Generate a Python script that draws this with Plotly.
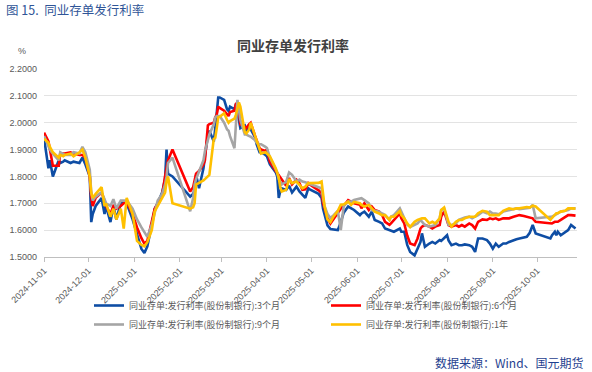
import plotly.graph_objects as go

dates = [
    "2024-11-01", "2024-11-04", "2024-11-05", "2024-11-07", "2024-11-11", "2024-11-12",
    "2024-11-14", "2024-11-15", "2024-11-19", "2024-11-21", "2024-11-25", "2024-11-27",
    "2024-11-29", "2024-12-02", "2024-12-03", "2024-12-04", "2024-12-06", "2024-12-10",
    "2024-12-12", "2024-12-13", "2024-12-16", "2024-12-18", "2024-12-20", "2024-12-23",
    "2024-12-25", "2024-12-27", "2024-12-31", "2025-01-03", "2025-01-06", "2025-01-08",
    "2025-01-10", "2025-01-13", "2025-01-15", "2025-01-17", "2025-01-20", "2025-01-22",
    "2025-01-23", "2025-01-24", "2025-01-27",
    "2025-02-08", "2025-02-10", "2025-02-11", "2025-02-12", "2025-02-14", "2025-02-17",
    "2025-02-18", "2025-02-20", "2025-02-21", "2025-02-24", "2025-02-25", "2025-02-26",
    "2025-02-27", "2025-02-28", "2025-03-03", "2025-03-05", "2025-03-06", "2025-03-07",
    "2025-03-10", "2025-03-11", "2025-03-12", "2025-03-13", "2025-03-14", "2025-03-17",
    "2025-03-18", "2025-03-20", "2025-03-21", "2025-03-24", "2025-03-25", "2025-03-27",
    "2025-03-28", "2025-03-31", "2025-04-01", "2025-04-03", "2025-04-07", "2025-04-08",
    "2025-04-09", "2025-04-10", "2025-04-11", "2025-04-14", "2025-04-16", "2025-04-18",
    "2025-04-21", "2025-04-23", "2025-04-25", "2025-04-27", "2025-04-29", "2025-04-30",
    "2025-05-06", "2025-05-08", "2025-05-09", "2025-05-10", "2025-05-12", "2025-05-14",
    "2025-05-16", "2025-05-19", "2025-05-21", "2025-05-23", "2025-05-26", "2025-05-28",
    "2025-05-30", "2025-06-03", "2025-06-04", "2025-06-06", "2025-06-09", "2025-06-11",
    "2025-06-13", "2025-06-16", "2025-06-18", "2025-06-20", "2025-06-23", "2025-06-24",
    "2025-06-26", "2025-06-30", "2025-07-01", "2025-07-03", "2025-07-05", "2025-07-07",
    "2025-07-10", "2025-07-12", "2025-07-14", "2025-07-15", "2025-07-17", "2025-07-20",
    "2025-07-22", "2025-07-24", "2025-07-27", "2025-07-28", "2025-07-30", "2025-08-01",
    "2025-08-02", "2025-08-04", "2025-08-07", "2025-08-09", "2025-08-11", "2025-08-13",
    "2025-08-16", "2025-08-18", "2025-08-20", "2025-08-22", "2025-08-25", "2025-08-28",
    "2025-08-30", "2025-09-01", "2025-09-03", "2025-09-05", "2025-09-08", "2025-09-10",
    "2025-09-12", "2025-09-15", "2025-09-17", "2025-09-19", "2025-09-22", "2025-09-24",
    "2025-09-26", "2025-09-28", "2025-09-30", "2025-10-10", "2025-10-11", "2025-10-13",
    "2025-10-14", "2025-10-15", "2025-10-17", "2025-10-20", "2025-10-22", "2025-10-24",
    "2025-10-27",
]

rate_3m = [
    1.944, 1.830, 1.860, 1.800, 1.860, 1.850, 1.855, 1.860, 1.850, 1.855, 1.850, 1.870,
    1.845, 1.800, 1.630, 1.660, 1.690, 1.720, 1.660, 1.690, 1.630, 1.690, 1.640, 1.700,
    1.705, 1.700, 1.640, 1.580, 1.530, 1.515, 1.540, 1.620, 1.680, 1.700, 1.740, 1.790,
    1.900, 1.810, 1.800,
    1.725, 1.735, 1.750, 1.806, 1.756, 1.830, 1.875, 1.956, 1.970, 1.930, 1.980, 2.044,
    2.094, 2.094, 2.085, 2.050, 2.044, 2.060, 2.050, 2.070, 2.040, 2.006, 1.980, 1.990,
    1.970, 1.980, 1.975, 1.945, 1.920, 1.890, 1.890, 1.880, 1.875, 1.845, 1.815, 1.800,
    1.720, 1.745, 1.756, 1.750, 1.765, 1.740, 1.762, 1.744, 1.731, 1.720, 1.756, 1.752,
    1.735, 1.720, 1.680, 1.660, 1.618, 1.604, 1.603, 1.600, 1.630, 1.665, 1.688, 1.682,
    1.675, 1.656, 1.662, 1.669, 1.650, 1.669, 1.638, 1.631, 1.625, 1.606, 1.600, 1.600,
    1.594, 1.606, 1.594, 1.594, 1.545, 1.519, 1.506, 1.531, 1.556, 1.588, 1.538, 1.550,
    1.556, 1.550, 1.563, 1.560, 1.569, 1.581, 1.562, 1.544, 1.550, 1.544, 1.544, 1.547,
    1.544, 1.538, 1.519, 1.569, 1.569, 1.563, 1.550, 1.531, 1.550, 1.538, 1.550, 1.550,
    1.556, 1.563, 1.566, 1.569, 1.572, 1.575, 1.590, 1.619, 1.588, 1.569, 1.580, 1.594,
    1.581, 1.594, 1.581, 1.594, 1.600, 1.619, 1.606,
]

rate_6m = [
    1.963, 1.930, 1.900, 1.840, 1.840, 1.885, 1.885, 1.885, 1.890, 1.885, 1.880, 1.880,
    1.870, 1.800, 1.720, 1.690, 1.720, 1.740, 1.710, 1.690, 1.660, 1.690, 1.680, 1.690,
    1.700, 1.705, 1.660, 1.610, 1.570, 1.550, 1.560, 1.630, 1.680, 1.700, 1.730, 1.800,
    1.840, 1.860, 1.900,
    1.744, 1.760, 1.780, 1.810, 1.820, 1.845, 1.860, 1.990, 1.995, 2.000, 2.020, 2.030,
    2.060, 2.055, 2.045, 2.030, 2.025, 2.040, 2.045, 2.070, 2.075, 2.040, 1.994, 1.985,
    1.980, 1.995, 2.000, 1.950, 1.935, 1.905, 1.900, 1.895, 1.900, 1.855, 1.820, 1.812,
    1.800, 1.795, 1.785, 1.765, 1.794, 1.770, 1.788, 1.775, 1.750, 1.752, 1.775, 1.770,
    1.748, 1.738, 1.700, 1.680, 1.645, 1.625, 1.640, 1.665, 1.680, 1.690, 1.712, 1.706,
    1.700, 1.695, 1.681, 1.700, 1.675, 1.688, 1.675, 1.669, 1.656, 1.631, 1.620, 1.625,
    1.638, 1.662, 1.644, 1.625, 1.580, 1.550, 1.544, 1.569, 1.606, 1.613, 1.619, 1.613,
    1.606, 1.613, 1.619, 1.650, 1.669, 1.631, 1.619, 1.613, 1.619, 1.613, 1.619, 1.613,
    1.625, 1.619, 1.606, 1.631, 1.640, 1.638, 1.644, 1.641, 1.644, 1.638, 1.644, 1.644,
    1.644, 1.650, 1.653, 1.656, 1.653, 1.650, 1.647, 1.644, 1.631, 1.625, 1.625, 1.631,
    1.630, 1.631, 1.638, 1.650, 1.656, 1.656, 1.654,
]

rate_9m = [
    1.950, 1.915, 1.900, 1.885, 1.860, 1.890, 1.885, 1.880, 1.880, 1.890, 1.885, 1.910,
    1.890, 1.825, 1.740, 1.710, 1.725, 1.740, 1.715, 1.700, 1.690, 1.715, 1.680, 1.710,
    1.710, 1.710, 1.680, 1.640, 1.610, 1.590, 1.575, 1.620, 1.660, 1.710, 1.735, 1.770,
    1.800, 1.850, 1.870,
    1.670, 1.720, 1.770, 1.790, 1.820, 1.860, 1.894, 1.940, 1.956, 1.994, 2.020, 2.025,
    2.025, 2.025, 2.000, 1.975, 1.970, 1.950, 1.905, 1.990, 2.085, 2.050, 2.010, 1.956,
    1.956, 1.950, 1.948, 1.935, 1.925, 1.920, 1.920, 1.910, 1.906, 1.870, 1.830, 1.815,
    1.790, 1.780, 1.770, 1.780, 1.815, 1.806, 1.781, 1.788, 1.781, 1.778, 1.775, 1.772,
    1.760, 1.756, 1.720, 1.690, 1.660, 1.645, 1.655, 1.672, 1.600, 1.690, 1.706, 1.706,
    1.712, 1.719, 1.719, 1.712, 1.700, 1.675, 1.672, 1.669, 1.662, 1.656, 1.638, 1.650,
    1.656, 1.681, 1.669, 1.644, 1.620, 1.612, 1.619, 1.625, 1.638, 1.631, 1.619, 1.613,
    1.616, 1.619, 1.644, 1.675, 1.681, 1.638, 1.619, 1.619, 1.625, 1.638, 1.644, 1.647,
    1.650, 1.644, 1.650, 1.656, 1.669, 1.663, 1.669, 1.662, 1.662, 1.659, 1.669, 1.672,
    1.675, 1.678, 1.681, 1.678, 1.681, 1.681, 1.683, 1.694, 1.644, 1.650, 1.650, 1.656,
    1.659, 1.663, 1.669, 1.672, 1.675, 1.681, 1.681,
]

rate_1y = [
    1.940, 1.925, 1.910, 1.890, 1.870, 1.880, 1.875, 1.880, 1.885, 1.875, 1.890, 1.900,
    1.870, 1.800, 1.740, 1.720, 1.735, 1.760, 1.690, 1.700, 1.650, 1.680, 1.640, 1.680,
    1.606, 1.720, 1.660, 1.560, 1.545, 1.540, 1.555, 1.600, 1.670, 1.690, 1.720, 1.740,
    1.780, 1.800, 1.700,
    1.680, 1.685, 1.700, 1.770, 1.775, 1.785, 1.790, 1.800, 1.806, 1.940, 1.944, 1.980,
    2.020, 2.022, 2.035, 2.010, 2.000, 2.006, 2.015, 2.030, 2.050, 2.075, 2.060, 1.965,
    1.960, 1.975, 2.000, 1.950, 1.930, 1.895, 1.885, 1.890, 1.885, 1.875, 1.830, 1.815,
    1.795, 1.760, 1.744, 1.750, 1.790, 1.775, 1.781, 1.769, 1.756, 1.762, 1.775, 1.775,
    1.776, 1.781, 1.720, 1.690, 1.640, 1.630, 1.650, 1.672, 1.695, 1.696, 1.706, 1.694,
    1.705, 1.700, 1.694, 1.688, 1.694, 1.681, 1.669, 1.662, 1.656, 1.656, 1.638, 1.650,
    1.650, 1.671, 1.656, 1.644, 1.625, 1.612, 1.631, 1.638, 1.644, 1.644, 1.644, 1.625,
    1.631, 1.625, 1.644, 1.675, 1.684, 1.650, 1.631, 1.613, 1.631, 1.638, 1.638, 1.644,
    1.650, 1.650, 1.650, 1.663, 1.672, 1.669, 1.656, 1.656, 1.655, 1.656, 1.672, 1.678,
    1.681, 1.678, 1.681, 1.681, 1.684, 1.686, 1.684, 1.691, 1.688, 1.638, 1.645, 1.656,
    1.663, 1.663, 1.669, 1.672, 1.681, 1.681, 1.680,
]

series_names = [
    "同业存单:发行利率(股份制银行):3个月",
    "同业存单:发行利率(股份制银行):6个月",
    "同业存单:发行利率(股份制银行):9个月",
    "同业存单:发行利率(股份制银行):1年",
]
series_values = [rate_3m, rate_6m, rate_9m, rate_1y]
series_colors = ["#0E4DA4", "#FF0000", "#A5A5A5", "#FFC000"]

y_ticks = [1.5, 1.6, 1.7, 1.8, 1.9, 2.0, 2.1, 2.2]

W, H = 592, 372
L, R, T, B = 44, 15, 69, 115
pw, ph = W - L - R, H - T - B


def px_x(px):
    return (px - L) / pw


def px_y(py):
    return (H - B - py) / ph


num_font = "Liberation Sans, Arial, Noto Sans CJK SC"
cjk_font = "Noto Sans CJK SC, Microsoft YaHei, sans-serif"

fig = go.Figure()
for name, vals, col in zip(series_names, series_values, series_colors):
    fig.add_trace(go.Scatter(
        x=dates, y=vals, name=name, mode="lines",
        line=dict(color=col, width=2.6),
    ))

fig.update_layout(
    width=W, height=H,
    margin=dict(l=L, r=R, t=T, b=B, pad=0, autoexpand=False),
    paper_bgcolor="white", plot_bgcolor="white",
    title=dict(
        text="<b>同业存单发行利率</b>",
        x=293 / W, xref="container", xanchor="center",
        y=1 - 46 / H, yref="container", yanchor="middle",
        font=dict(family=cjk_font, size=14, color="#404040"),
    ),
    showlegend=True,
    legend=dict(
        orientation="h",
        xref="container", yref="container",
        x=89 / W, xanchor="left",
        y=1 - 291 / H, yanchor="top",
        entrywidth=192, entrywidthmode="pixels",
        font=dict(family=cjk_font, size=9, color="#595959"),
        bgcolor="rgba(0,0,0,0)",
        traceorder="normal",
        tracegroupgap=0,
    ),
    xaxis=dict(
        type="date",
        range=["2024-11-01", "2025-10-28"],
        tick0="2024-11-01", dtick="M1",
        tickformat="%Y-%m-%d",
        tickangle=-45,
        tickfont=dict(family=num_font, size=9, color="#595959"),
        showgrid=False,
        showline=True, linecolor="#BFBFBF", linewidth=1,
        ticks="outside", ticklen=4, tickcolor="#BFBFBF",
        zeroline=False, automargin=False,
    ),
    yaxis=dict(
        range=[1.5, 2.2],
        tickvals=y_ticks,
        tickformat=".4f",
        tickfont=dict(family=num_font, size=9, color="#595959"),
        showgrid=True, gridcolor="#E3E3E3", gridwidth=1,
        showline=False, zeroline=False,
        ticks="", ticklabelstandoff=6, automargin=False,
    ),
    annotations=[
        dict(
            text="图 15.  同业存单发行利率",
            xref="paper", yref="paper",
            x=px_x(4), y=px_y(9), xanchor="left", yanchor="middle",
            showarrow=False,
            font=dict(family=cjk_font, size=12.5, color="#2F5597"),
        ),
        dict(
            text="%",
            xref="paper", yref="paper",
            x=px_x(22), y=px_y(51), xanchor="center", yanchor="middle",
            showarrow=False,
            font=dict(family=num_font, size=9, color="#595959"),
        ),
        dict(
            text="数据来源：Wind、国元期货",
            xref="paper", yref="paper",
            x=px_x(586), y=px_y(362), xanchor="right", yanchor="middle",
            showarrow=False,
            font=dict(family=cjk_font, size=12, color="#1F3F8F"),
        ),
    ],
)

fig.write_html(
    "out.html",
    config={"displayModeBar": False},
    post_script="document.body.style.margin='0';document.body.style.overflow='hidden';",
)
